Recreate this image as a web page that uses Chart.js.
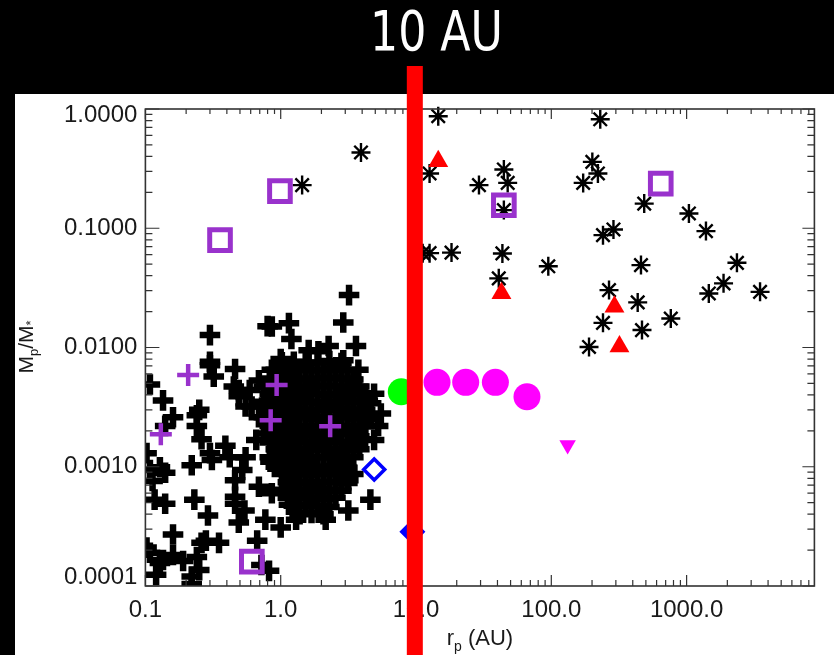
<!DOCTYPE html>
<html>
<head>
<meta charset="utf-8">
<script src="https://cdn.jsdelivr.net/npm/chart.js@4.4.1/dist/chart.umd.min.js"></script>
<style>
  html, body { margin: 0; padding: 0; background: #000; }
  canvas { display: block; }
</style>
</head>
<body>
<canvas id="planets" width="834" height="655"></canvas>
<script>
// axes
const xTicks = [0.1, 1, 10, 100, 1000];
const xTickLabels = ['0.1', '1.0', '10.0', '100.0', '1000.0'];
const yTicks = [0.0001, 0.001, 0.01, 0.1, 1];
const yTickLabels = ['0.0001', '0.0010', '0.0100', '0.1000', '1.0000'];
const xRange = [0.1, 8800];
const yRange = [0.0001, 1];
const markerLineAU = 9.8;   // the red "10 AU" line as drawn
const markerLabel = '10 AU';

// every point is [r_p (AU), Mp/M*]
const rvPlanets = [
  // scattered ones
  [0.30, 0.0127], [0.80, 0.0151], [0.30, 0.0076], [0.32, 0.0057], [0.46, 0.0066], [0.108, 0.0049],
  [0.135, 0.0036], [0.16, 0.0026], [0.24, 0.0027], [0.45, 0.0047], [0.49, 0.0039], [0.59, 0.0044],
  [0.61, 0.0032], [0.69, 0.0026], [0.82, 0.0036], [0.86, 0.0065], [0.14, 0.0022], [0.24, 0.0022],
  [0.26, 0.0017], [0.31, 0.00114], [0.22, 0.00103], [0.14, 0.00089], [0.113, 0.00076], [0.102, 0.0013],
  [0.117, 0.00053], [0.14, 0.00049], [0.23, 0.00053], [0.29, 0.00039], [0.16, 0.00027], [0.102, 0.00021],
  [0.128, 0.000156], [0.16, 0.000182], [0.19, 0.000162], [0.26, 0.00023], [0.35, 0.00023], [0.24, 0.000175],
  [0.22, 0.00012], [0.12, 0.000124], [0.49, 0.00034], [0.46, 0.00049], [0.46, 0.00077], [0.55, 0.0012],
  [0.52, 0.00094], [0.66, 0.00168], [0.67, 0.00024], [0.77, 0.00036], [0.86, 0.0019], [0.86, 0.00060],
  [0.84, 0.0011], [0.69, 0.00068], [0.82, 0.000134], [0.72, 0.00015], [0.22, 0.000104], [0.25, 0.000136],
  [0.135, 0.000165], [0.108, 0.00019], [0.28, 0.00024], [0.30, 0.0013], [0.25, 0.0030], [0.46, 0.00056],
  [0.30, 0.0071], [0.69, 0.0053], [0.49, 0.0044], [0.55, 0.0032], [0.42, 0.0012], [0.39, 0.0015],
  [0.54, 0.00043], [0.128, 0.00099], [0.108, 0.00094],
  [3.2, 0.0275], [2.9, 0.0162], [1.15, 0.016], [0.86, 0.0150], [1.2, 0.0118], [3.6, 0.0103],
  [3.75, 0.0065], [2.26, 0.0103], [1.61, 0.0095], [1.9, 0.0093], [2.9, 0.0078], [1.0, 0.0080],
  [4.9, 0.0041], [4.4, 0.0036], [5.5, 0.0028], [5.25, 0.0022], [4.9, 0.00168], [4.6, 0.00053],
  [3.16, 0.00043], [2.15, 0.00036], [1.0, 0.00031], [1.3, 0.00036], [3.16, 0.00077], [1.9, 0.00062],
  [1.15, 0.00048],
  // the crowded core, 1-5 AU
  [1.02, 0.0075], [1.25, 0.0076], [1.53, 0.0074], [1.87, 0.0075], [2.29, 0.0077], [2.81, 0.0074],
  [0.92, 0.0065], [1.13, 0.0064], [1.38, 0.0066], [1.69, 0.0065], [2.07, 0.0064], [2.54, 0.0066], [3.11, 0.0065],
  [0.83, 0.0055], [1.02, 0.0056], [1.25, 0.0055], [1.53, 0.0054], [1.87, 0.0055], [2.29, 0.0056], [2.81, 0.0055], [3.44, 0.0054],
  [0.75, 0.0047], [0.92, 0.0048], [1.13, 0.0047], [1.38, 0.0046], [1.69, 0.0047], [2.07, 0.0048], [2.54, 0.0047], [3.11, 0.0046], [3.81, 0.0047],
  [0.83, 0.0041], [1.02, 0.0040], [1.25, 0.0041], [1.53, 0.0042], [1.87, 0.0041], [2.29, 0.0040], [2.81, 0.0041], [3.44, 0.0042], [4.21, 0.0041],
  [0.75, 0.0035], [0.92, 0.0034], [1.13, 0.0035], [1.38, 0.0036], [1.69, 0.0035], [2.07, 0.0034], [2.54, 0.0035], [3.11, 0.0036], [3.81, 0.0035], [4.66, 0.0034],
  [0.83, 0.0030], [1.02, 0.0031], [1.25, 0.0030], [1.53, 0.0029], [1.87, 0.0030], [2.29, 0.0031], [2.81, 0.0030], [3.44, 0.0029], [4.21, 0.0030],
  [0.75, 0.0026], [0.92, 0.0025], [1.13, 0.0026], [1.38, 0.0027], [1.69, 0.0026], [2.07, 0.0025], [2.54, 0.0026], [3.11, 0.0027], [3.81, 0.0026], [4.66, 0.0025],
  [0.83, 0.0022], [1.02, 0.0023], [1.25, 0.0022], [1.53, 0.0021], [1.87, 0.0022], [2.29, 0.0023], [2.81, 0.0022], [3.44, 0.0021], [4.21, 0.0022],
  [0.75, 0.0019], [0.92, 0.0019], [1.13, 0.0018], [1.38, 0.0019], [1.69, 0.0019], [2.07, 0.0018], [2.54, 0.0019], [3.11, 0.0019], [3.81, 0.0018],
  [0.83, 0.0016], [1.02, 0.0016], [1.25, 0.0017], [1.53, 0.0016], [1.87, 0.0016], [2.29, 0.0017], [2.81, 0.0016], [3.44, 0.0016], [4.21, 0.0017],
  [0.92, 0.0014], [1.13, 0.0014], [1.38, 0.0013], [1.69, 0.0014], [2.07, 0.0014], [2.54, 0.0013], [3.11, 0.0014], [3.81, 0.0014],
  [0.83, 0.0012], [1.02, 0.0012], [1.25, 0.0012], [1.53, 0.0011], [1.87, 0.0012], [2.29, 0.0012], [2.81, 0.0011], [3.44, 0.0012],
  [0.92, 0.0010], [1.13, 0.0010], [1.38, 0.0010], [1.69, 0.00098], [2.07, 0.0010], [2.54, 0.0010], [3.11, 0.00098],
  [1.02, 0.00087], [1.25, 0.00088], [1.53, 0.00086], [1.87, 0.00087], [2.29, 0.00088], [2.81, 0.00086], [3.44, 0.00087],
  [1.13, 0.00074], [1.38, 0.00075], [1.69, 0.00073], [2.07, 0.00074], [2.54, 0.00075], [3.11, 0.00073],
  [1.02, 0.00064], [1.25, 0.00063], [1.53, 0.00064], [1.87, 0.00065], [2.29, 0.00064], [2.81, 0.00063],
  [1.13, 0.00055], [1.38, 0.00056], [1.69, 0.00055], [2.07, 0.00054], [2.54, 0.00055],
  [1.25, 0.00047], [1.53, 0.00048], [1.87, 0.00047], [2.29, 0.00046],
  [1.38, 0.00040], [1.69, 0.00041], [2.07, 0.00040]
];
const rvPurple = [[0.207, 0.00587], [0.130, 0.00187], [0.933, 0.00484], [0.843, 0.00246], [2.32, 0.00219]];
const imaged = [
  [14.6, 0.87], [12.6, 0.288], [29.2, 0.23], [44.6, 0.311], [47.6, 0.240], [44.6, 0.142],
  [11.2, 0.0618], [12.6, 0.0618], [18.3, 0.0625], [43.5, 0.0615], [95, 0.048], [40.9, 0.038],
  [230, 0.82], [201, 0.36], [221, 0.288], [172, 0.24], [486, 0.161], [1040, 0.133],
  [1390, 0.0946], [241, 0.0875], [288, 0.0977], [460, 0.0491], [2355, 0.0513], [1875, 0.0345],
  [1459, 0.0284], [3490, 0.0293], [267, 0.0303], [435, 0.0239], [241, 0.0161], [468, 0.014],
  [764, 0.0175], [190, 0.0101], [3.92, 0.432], [1.44, 0.23]
];
const redTriangles = [[14.6, 0.365], [42.8, 0.0285], [293, 0.022], [319, 0.0102]];
const purpleSquares = [[0.987, 0.205], [0.356, 0.0795], [44.6, 0.156], [644, 0.237], [0.612, 0.00016]];
const magentaDiscs = [[14.3, 0.0051], [23.3, 0.0051], [38.6, 0.0051], [66.1, 0.00386]];
const greenDisc = [[7.78, 0.00425]];
const magentaDown = [[132, 0.00152]];
const blueOpenDiamond = [[4.91, 0.00095]];
const blueDiamond = [[9.4, 0.000285]];

const pts = arr => arr.map(p => ({x: p[0], y: p[1]}));
const purple = '#9932cc';
const labelFont = '"Liberation Sans", Arial, Helvetica, sans-serif';

function drawPieces(c, pieces, cx, baseY) {
  let total = 0;
  pieces.forEach(p => { c.font = p[1]; total += c.measureText(p[0]).width; });
  let xx = cx - total / 2;
  c.textAlign = 'left';
  c.textBaseline = 'alphabetic';
  pieces.forEach(p => {
    c.font = p[1];
    c.fillText(p[0], xx, baseY + p[2]);
    xx += c.measureText(p[0]).width;
  });
}

const framePlugin = {
  id: 'frame',
  beforeDraw(chart) {
    const c = chart.ctx;
    c.save();
    c.fillStyle = '#000';
    c.fillRect(0, 0, chart.width, chart.height);
    c.fillStyle = '#fff';
    c.fillRect(15, 94, chart.width - 15, chart.height - 94);
    c.restore();
  },
  afterDatasetsDraw(chart) {
    const c = chart.ctx, a = chart.chartArea;
    const xs = chart.scales.x, ys = chart.scales.y;
    c.save();
    c.strokeStyle = '#333';
    c.lineWidth = 1.2;
    c.beginPath();
    for (let e = -1; e <= 3; e++) {
      for (let m = 1; m <= 9; m++) {
        const v = m * Math.pow(10, e);
        if (v >= xRange[1]) continue;
        const px = xs.getPixelForValue(v);
        const major = m === 1;
        c.moveTo(px, a.bottom); c.lineTo(px, a.bottom - (major ? 11 : 6));
        c.moveTo(px, a.top); c.lineTo(px, a.top + (major ? 10 : 5));
      }
    }
    for (let e = -4; e <= 0; e++) {
      for (let m = 1; m <= 9; m++) {
        const v = m * Math.pow(10, e);
        if (v > yRange[1]) continue;
        const py = ys.getPixelForValue(v);
        const major = m === 1;
        c.moveTo(a.left, py); c.lineTo(a.left + (major ? 14 : 7), py);
        c.moveTo(a.right, py); c.lineTo(a.right - (major ? 12 : 7), py);
      }
    }
    c.stroke();
    c.lineWidth = 1.6;
    c.strokeRect(a.left, a.top, a.right - a.left, a.bottom - a.top);

    // tick labels
    c.fillStyle = '#1a1a1a';
    c.font = '24px ' + labelFont;
    c.textAlign = 'right';
    c.textBaseline = 'middle';
    yTicks.forEach((v, i) => {
      let py = ys.getPixelForValue(v);
      py = Math.min(Math.max(py, a.top + 6), a.bottom - 9);
      c.fillText(yTickLabels[i], a.left - 8, py);
    });
    c.textAlign = 'center';
    xTicks.forEach((v, i) => {
      c.fillText(xTickLabels[i], xs.getPixelForValue(v), a.bottom + 24);
    });

    // axis titles
    drawPieces(c, [['r', '22px ' + labelFont, 0], ['p', '14px ' + labelFont, 6], [' (AU)', '22px ' + labelFont, 0]],
      (a.left + a.right) / 2, 645);
    c.save();
    c.translate(33, 347);
    c.rotate(-Math.PI / 2);
    drawPieces(c, [['M', '21px ' + labelFont, 0], ['p', '13px ' + labelFont, 5], ['/M', '21px ' + labelFont, 0], ['*', '13px ' + labelFont, 2]], 0, 0);
    c.restore();
    c.restore();
  },
  afterDraw(chart) {
    const c = chart.ctx;
    const px = chart.scales.x.getPixelForValue(markerLineAU);
    c.save();
    c.fillStyle = '#ff0000';
    c.fillRect(px - 8, 66, 16, chart.height - 66);
    c.fillStyle = '#fff';
    c.font = '56px "Liberation Sans Narrow", "DejaVu Sans Condensed", "Liberation Sans", sans-serif';
    c.textBaseline = 'alphabetic';
    c.textAlign = 'left';
    const w = c.measureText(markerLabel).width;
    const target = 133;
    c.translate(436.5 - target / 2, 50);
    c.scale(target / w, 1);
    c.fillText(markerLabel, 0, 0);
    c.restore();
  }
};

const noFill = 'rgba(0,0,0,0)';

new Chart(document.getElementById('planets'), {
  type: 'scatter',
  data: {
    datasets: [
      {label: 'blue diamond', data: pts(blueDiamond), order: 1, pointStyle: 'rectRot', pointRadius: 13,
        pointBackgroundColor: '#0000ff', pointBorderWidth: 0, clip: false},
      {label: 'open diamond', data: pts(blueOpenDiamond), order: 2, pointStyle: 'rectRot', pointRadius: 10.5,
        pointBackgroundColor: noFill, pointBorderColor: '#0000ff', pointBorderWidth: 3.5, clip: false},
      {label: 'down triangle', data: pts(magentaDown), order: 3, pointStyle: 'triangle', pointRotation: 180,
        pointRadius: 9.5, pointBackgroundColor: '#ff00ff', pointBorderWidth: 0, clip: false},
      {label: 'green disc', data: pts(greenDisc), order: 4, pointStyle: 'circle', pointRadius: 13.5,
        pointBackgroundColor: '#00ff00', pointBorderWidth: 0, clip: false},
      {label: 'magenta discs', data: pts(magentaDiscs), order: 5, pointStyle: 'circle', pointRadius: 13.5,
        pointBackgroundColor: '#ff00ff', pointBorderWidth: 0, clip: false},
      {label: 'red triangles', data: pts(redTriangles), order: 6, pointStyle: 'triangle', pointRadius: 11.5,
        pointBackgroundColor: '#ff0000', pointBorderWidth: 0, clip: false},
      {label: 'squares', data: pts(purpleSquares), order: 7, pointStyle: 'rect', pointRadius: 14.6,
        pointBackgroundColor: noFill, pointBorderColor: purple, pointBorderWidth: 5, clip: 0},
      {label: 'imaged', data: pts(imaged), order: 8, pointStyle: 'star', pointRadius: 9.5,
        pointBorderColor: '#000', pointBorderWidth: 2.4, clip: false},
      {label: 'rv purple', data: pts(rvPurple), order: 9, pointStyle: 'cross', pointRadius: 11,
        pointBorderColor: purple, pointBorderWidth: 4.5, clip: 0},
      {label: 'rv', data: pts(rvPlanets), order: 10, pointStyle: 'cross', pointRadius: 10.3,
        pointBorderColor: '#000', pointBorderWidth: 6.5, clip: 0}
    ]
  },
  options: {
    responsive: false,
    animation: false,
    events: [],
    layout: {padding: {left: 0, top: 109, right: 16, bottom: 0}},
    plugins: {legend: {display: false}, tooltip: {enabled: false}},
    scales: {
      x: {
        type: 'logarithmic', min: xRange[0], max: xRange[1],
        grid: {display: false}, border: {display: false}, ticks: {display: false},
        afterFit: s => { s.height = 69; }
      },
      y: {
        type: 'logarithmic', min: yRange[0], max: yRange[1],
        grid: {display: false}, border: {display: false}, ticks: {display: false},
        afterFit: s => { s.width = 145.4; }
      }
    }
  },
  plugins: [framePlugin]
});
</script>
</body>
</html>
